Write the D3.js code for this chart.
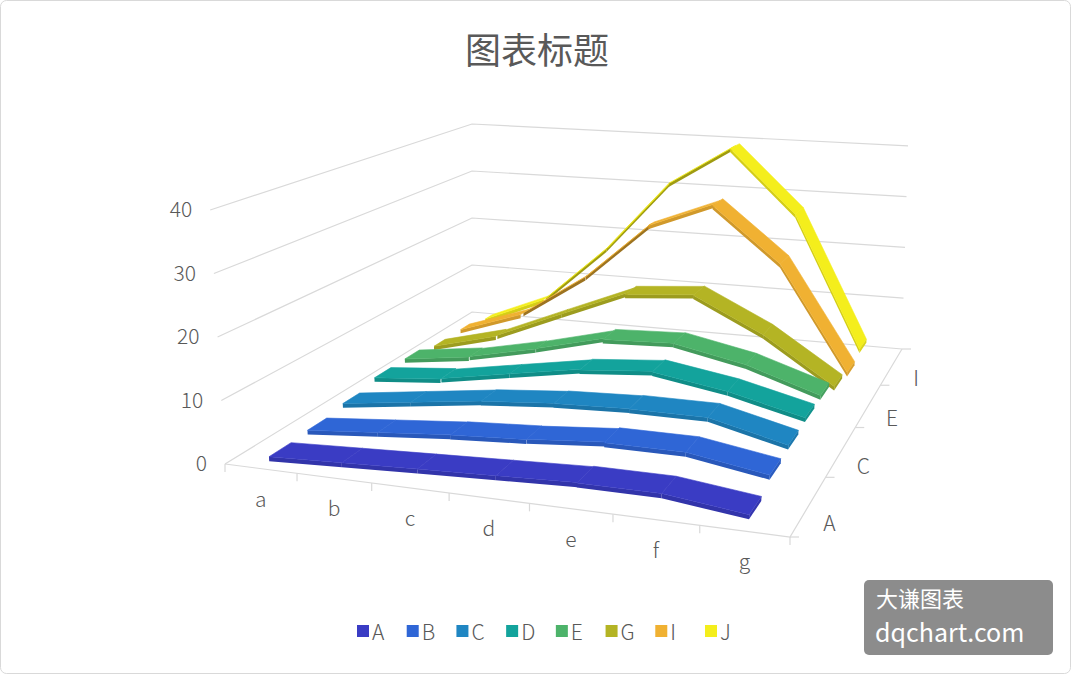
<!DOCTYPE html>
<html>
<head>
<meta charset="utf-8">
<script src="https://cdn.jsdelivr.net/npm/d3@7"></script>
<style>
body { margin: 0; background: #fff; font-family: "Noto Sans CJK SC", "Noto Sans", sans-serif; }
</style>
</head>
<body>
<svg id="chart" width="1071" height="674"></svg>
<script>
var categories = ["a", "b", "c", "d", "e", "f", "g"];
var series_names = ["A", "B", "C", "D", "E", "G", "I", "J"];
var series_colors = ["#3a3cc4", "#2f66d6", "#1f86c2", "#13a39c", "#4db36a", "#b4b424", "#f0b132", "#f4ee1c"];
var values_A = [1, 1.5, 2, 2.5, 3, 3, 1.5];
var values_B = [1.3, 2.3, 3.3, 4, 5, 5, 3];
var values_C = [2, 3.5, 5, 6, 6.5, 6.5, 3.5];
var values_D = [3, 4, 6, 8, 9, 7, 4];
var values_E = [3, 4.5, 7, 10, 10.5, 8, 4];
var values_G = [2, 5, 10, 15, 16, 10, 2];
var values_I = [2, 6, 14, 25, 30, 20, 1];
var values_J = [1, 6, 17, 31, 39, 27, 2];
var all_values = [values_A, values_B, values_C, values_D, values_E, values_G, values_I, values_J];
var value_ticks = [0, 10, 20, 30, 40];
var depth_labels = ["A", "C", "E", "I"];

// homography for the floor: (u,w) in unit square -> screen
var floor_corners = [[0, 0, 225, 464], [1, 0, 790, 537], [1, 1, 902, 349], [0, 1, 472, 312]];
function solve(A, b)
{
    var n = b.length;
    for (var i = 0; i < n; i++)
    {
        var p = i;
        for (var r = i + 1; r < n; r++) if (Math.abs(A[r][i]) > Math.abs(A[p][i])) p = r;
        var t = A[i]; A[i] = A[p]; A[p] = t;
        var tb = b[i]; b[i] = b[p]; b[p] = tb;
        for (var r = i + 1; r < n; r++)
        {
            var f = A[r][i] / A[i][i];
            for (var c = i; c < n; c++) A[r][c] -= f * A[i][c];
            b[r] -= f * b[i];
        }
    }
    var x = new Array(n);
    for (var i = n - 1; i >= 0; i--)
    {
        var s = b[i];
        for (var c = i + 1; c < n; c++) s -= A[i][c] * x[c];
        x[i] = s / A[i][i];
    }
    return x;
}
var M = [], B = [];
floor_corners.forEach(function(p)
{
    var u = p[0], w = p[1], X = p[2], Y = p[3];
    M.push([u, w, 1, 0, 0, 0, -u * X, -w * X]); B.push(X);
    M.push([0, 0, 0, u, w, 1, -u * Y, -w * Y]); B.push(Y);
});
var h = solve(M, B);

// pixels per value unit and vertical lean at the four floor corners
var scale_c = [6.35, 6.8, 5.08, 4.7];
var lean_c = [-0.37, 0.4, 0.15, 0];
function bilinear(c, u, w)
{
    return c[0] * (1 - u) * (1 - w) + c[1] * u * (1 - w) + c[2] * u * w + c[3] * (1 - u) * w;
}
var y_max = 40;
var value_scale = d3.scaleLinear().domain([0, y_max]).range([0, y_max]);
function project(u, w, v)
{
    var den = h[6] * u + h[7] * w + 1;
    var X = (h[0] * u + h[1] * w + h[2]) / den;
    var Y = (h[3] * u + h[4] * w + h[5]) / den;
    var vv = value_scale(v);
    return [X + bilinear(lean_c, u, w) * vv, Y - bilinear(scale_c, u, w) * vv];
}

var u_scale = d3.scalePoint().domain(categories).range([0.5 / 7, 6.5 / 7]);
var w_scale = d3.scalePoint().domain(series_names).range([0.5 / 8, 7.5 / 8]);

var svg = d3.select("#chart");
svg.append("rect").attr("x", 0.5).attr("y", 0.5).attr("width", 1070).attr("height", 673)
    .attr("rx", 6).attr("fill", "#fff").attr("stroke", "#d9d9d9");

svg.append("text").attr("x", 537).attr("y", 64).attr("text-anchor", "middle")
    .attr("font-size", 36).attr("fill", "#595959").text("图表标题");

var line = d3.line();
var grid = svg.append("g").attr("stroke", "#d9d9d9").attr("stroke-width", 1.2).attr("fill", "none");
value_ticks.forEach(function(v)
{
    grid.append("path").attr("d", line([project(0, 0, v), project(0, 1, v), project(1, 1, v)]));
});
grid.append("path").attr("d", line([project(0, 0, 0), project(1, 0, 0), project(1, 1, 0)]));
d3.range(8).forEach(function(k)
{
    var p = project(k / 7, 0, 0);
    grid.append("path").attr("d", line([p, [p[0], p[1] + 8]]));
});
d3.range(5).forEach(function(k)
{
    var p = project(1, k / 4, 0);
    grid.append("path").attr("d", line([p, [p[0] + 9, p[1]]]));
});

var labels = svg.append("g").attr("fill", "#595959").attr("font-size", 21).attr("font-weight", 300);
value_ticks.forEach(function(v)
{
    var p = project(0, 0, v);
    labels.append("text").attr("x", p[0] - 18).attr("y", p[1] + 7).attr("text-anchor", "end").text(v);
});
categories.forEach(function(c)
{
    var p = project(u_scale(c), 0, 0);
    labels.append("text").attr("x", p[0]).attr("y", p[1] + 38).attr("text-anchor", "middle").text(c);
});
depth_labels.forEach(function(s)
{
    var p = project(1, w_scale(s), 0);
    labels.append("text").attr("x", p[0] + 30).attr("y", p[1] + 10).attr("text-anchor", "middle").text(s);
});

// ribbons, back to front
var half_depth = 0.3 / 8;
var face_height = 0.7;
var ribbons = svg.append("g");
for (var j = series_names.length - 1; j >= 0; j--)
{
    var w = w_scale(series_names[j]);
    var vals = all_values[j];
    var base = d3.color(series_colors[j]);
    for (var i = 0; i < vals.length - 1; i++)
    {
        var u1 = u_scale(categories[i]), u2 = u_scale(categories[i + 1]);
        var v1 = vals[i], v2 = vals[i + 1];
        // rising segments are seen nearly edge-on, so they get thinner
        var k = Math.max(0.15, Math.min(1, 1 - (v2 - v1) / 10));
        var hd = half_depth * k;
        var top_face = [project(u1, w + hd, v1), project(u2, w + hd, v2),
                        project(u2, w - hd, v2), project(u1, w - hd, v1)];
        var front_face = [project(u1, w - hd, v1), project(u2, w - hd, v2),
                          project(u2, w - hd, v2 - face_height), project(u1, w - hd, v1 - face_height)];
        ribbons.append("path").attr("d", line(front_face) + "Z").attr("fill", base.darker(k < 0.5 ? 1.2 : 0.4));
        ribbons.append("path").attr("d", line(top_face) + "Z").attr("fill", base)
            .attr("stroke", base).attr("stroke-width", 0.6);
    }
    var ul = u_scale(categories[vals.length - 1]), vl = vals[vals.length - 1];
    var cap = [project(ul, w - half_depth, vl), project(ul, w + half_depth, vl),
               project(ul, w + half_depth, vl - face_height), project(ul, w - half_depth, vl - face_height)];
    ribbons.append("path").attr("d", line(cap) + "Z").attr("fill", base.darker(0.3));
}

// legend
var legend = svg.append("g").attr("font-size", 21).attr("fill", "#595959").attr("font-weight", 300);
var legend_x = d3.scalePoint().domain(series_names).range([357, 705]);
series_names.forEach(function(s, i)
{
    var x = legend_x(s);
    legend.append("rect").attr("x", x).attr("y", 625).attr("width", 12).attr("height", 12).attr("fill", series_colors[i]);
    legend.append("text").attr("x", x + 15).attr("y", 640).text(s);
});

// watermark
var wm = svg.append("g");
wm.append("rect").attr("x", 864).attr("y", 580).attr("width", 189).attr("height", 75).attr("rx", 5).attr("fill", "#8c8c8c");
wm.append("text").attr("x", 876).attr("y", 607).attr("font-size", 22).attr("fill", "#fff").text("大谦图表");
wm.append("text").attr("x", 875).attr("y", 642).attr("font-size", 25).attr("fill", "#fff").text("dqchart.com");
</script>
</body>
</html>
